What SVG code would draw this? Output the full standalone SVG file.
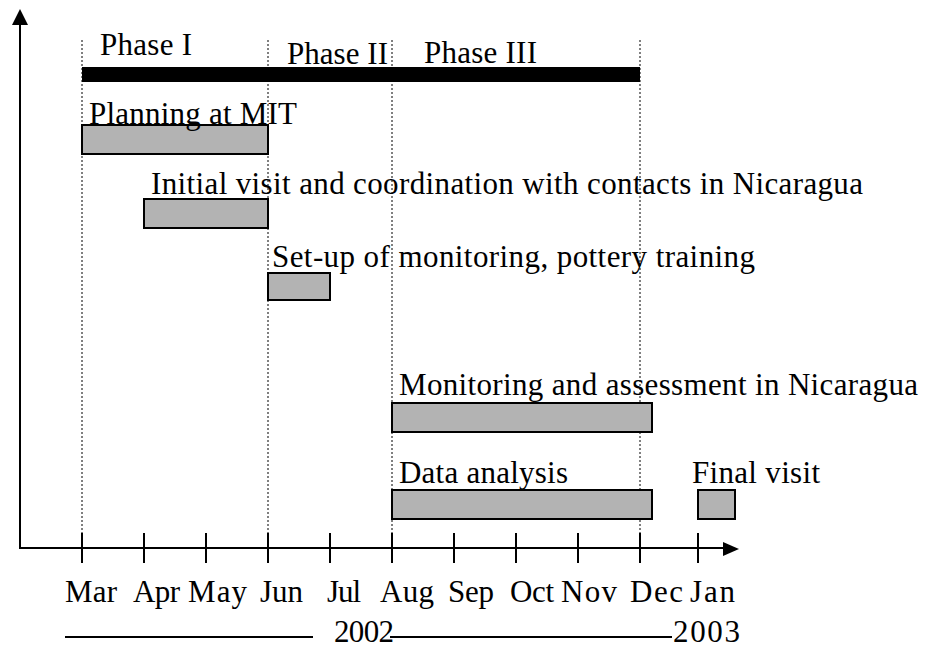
<svg xmlns="http://www.w3.org/2000/svg" width="926" height="649" viewBox="0 0 926 649">
<style>
text{font-family:"Liberation Serif","Times New Roman",serif;font-size:31px;fill:#000}
.bar{fill:#b3b3b3;stroke:#000;stroke-width:2}
.dot{stroke:#000;stroke-width:1;stroke-dasharray:2 2;fill:none}
.ax{stroke:#000;stroke-width:2;fill:none}
</style>
<rect width="926" height="649" fill="#fff"/>
<g id="guides">
<line class="dot" x1="82" y1="40" x2="82" y2="548"/>
<line class="dot" x1="268" y1="40" x2="268" y2="548"/>
<line class="dot" x1="392" y1="40" x2="392" y2="548"/>
<line class="dot" x1="640" y1="40" x2="640" y2="548"/>
</g>
<g id="axes">
<line class="ax" x1="20" y1="548" x2="20" y2="24"/>
<polygon points="20,9 12,25 28,25"/>
<line class="ax" x1="19" y1="548" x2="724" y2="548"/>
<polygon points="739,549 723,542 723,556"/>
<g class="ax">
<line x1="82" y1="533" x2="82" y2="563"/>
<line x1="144" y1="533" x2="144" y2="563"/>
<line x1="206" y1="533" x2="206" y2="563"/>
<line x1="268" y1="533" x2="268" y2="563"/>
<line x1="330" y1="533" x2="330" y2="563"/>
<line x1="392" y1="533" x2="392" y2="563"/>
<line x1="454" y1="533" x2="454" y2="563"/>
<line x1="516" y1="533" x2="516" y2="563"/>
<line x1="578" y1="533" x2="578" y2="563"/>
<line x1="640" y1="533" x2="640" y2="563"/>
<line x1="698" y1="533" x2="698" y2="563"/>
</g>
</g>
<g id="phases">
<rect x="82" y="67" width="558" height="15" fill="#000"/>
<text x="100" y="55" textLength="92">Phase I</text>
<text x="287" y="64" textLength="101">Phase II</text>
<text x="424" y="63" textLength="113">Phase III</text>
</g>
<g id="planning">
<rect class="bar" x="82" y="125" width="186" height="29"/>
<text x="89" y="124" textLength="208">Planning at MIT</text>
</g>
<g id="initial">
<rect class="bar" x="144" y="199" width="124" height="29"/>
<text x="151" y="194" textLength="712">Initial visit and coordination with contacts in Nicaragua</text>
</g>
<g id="setup">
<rect class="bar" x="268" y="273" width="62" height="27"/>
<text x="272" y="267" textLength="483">Set-up of monitoring, pottery training</text>
</g>
<g id="monitoring">
<rect class="bar" x="392" y="403" width="260" height="29"/>
<text x="399" y="395" textLength="519">Monitoring and assessment in Nicaragua</text>
</g>
<g id="analysis">
<rect class="bar" x="392" y="490" width="260" height="29"/>
<text x="399" y="483" textLength="169">Data analysis</text>
</g>
<g id="final">
<rect class="bar" x="698" y="490" width="37" height="29"/>
<text x="692" y="483" textLength="128">Final visit</text>
</g>
<g id="months">
<text x="65" y="602" textLength="52">Mar</text>
<text x="133" y="602" textLength="47">Apr</text>
<text x="188" y="602" textLength="59">May</text>
<text x="260" y="602" textLength="43">Jun</text>
<text x="327" y="602" textLength="34">Jul</text>
<text x="380" y="602" textLength="54">Aug</text>
<text x="448" y="602" textLength="46">Sep</text>
<text x="510" y="602" textLength="44">Oct</text>
<text x="561" y="602" textLength="56">Nov</text>
<text x="630" y="602" textLength="53">Dec</text>
<text x="690" y="602" textLength="45">Jan</text>
</g>
<g id="years">
<line class="ax" x1="65" y1="637" x2="313" y2="637"/>
<text x="334" y="642" textLength="60">2002</text>
<line class="ax" x1="390" y1="637" x2="672" y2="637"/>
<text x="673" y="642" textLength="67">2003</text>
</g>
</svg>
